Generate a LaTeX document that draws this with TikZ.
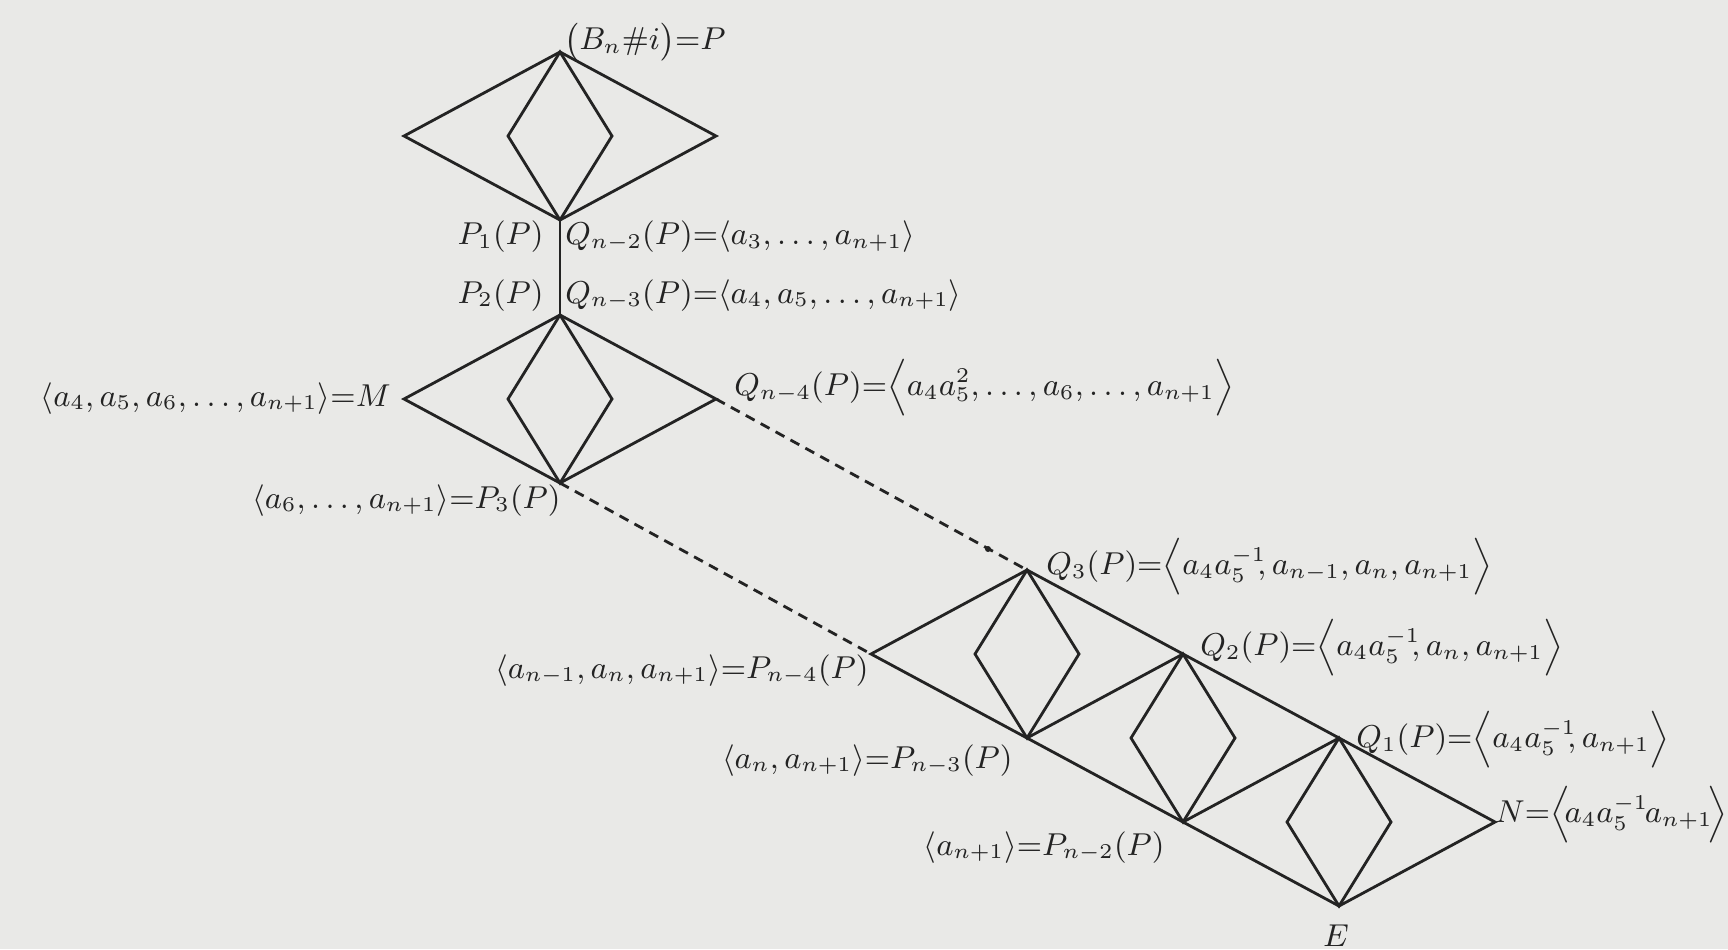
\documentclass[tikz,border=0pt]{standalone}
\usepackage{amsmath}
\definecolor{papel}{RGB}{233,233,231}
\definecolor{tinta}{RGB}{35,35,35}
\begin{document}
\begin{tikzpicture}[x=0.1mm,y=-0.1mm,line width=0.8pt,draw=tinta,text=tinta,
  font=\fontsize{9}{11}\selectfont,
  lbl/.style={inner sep=0pt},
  discont/.style={dash pattern=on 1mm off 0.7mm}]

% Fondo
\fill[papel] (0,0) rectangle (1728,949);
\useasboundingbox (0,0) rectangle (1728,949);

% Vertices de arriba
\coordinate (T1) at (560,52);
\coordinate (L1) at (404,136);
\coordinate (R1) at (716,136);
\coordinate (B1) at (560,220);
\coordinate (IL1) at (508,136);
\coordinate (IR1) at (612,136);
\coordinate (T2) at (560,315);
\coordinate (M) at (404,399);
\coordinate (R2) at (716,399);
\coordinate (B2) at (560,483);
\coordinate (IL2) at (508,399);
\coordinate (IR2) at (612,399);

% Vertices de abajo
\coordinate (A) at (871,654);
\coordinate (Q3) at (1027,570);
\coordinate (B3) at (1027,738);
\coordinate (Q2) at (1183,654);
\coordinate (B4) at (1183,822);
\coordinate (Q1) at (1339,738);
\coordinate (E) at (1339,906);
\coordinate (N) at (1495,822);
\coordinate (IL3) at (975,654);
\coordinate (IR3) at (1079,654);
\coordinate (IL4) at (1131,738);
\coordinate (IR4) at (1235,738);
\coordinate (IL5) at (1287,822);
\coordinate (IR5) at (1391,822);

% Rombos de arriba
\draw (T1) -- (L1) -- (B1) -- (R1) -- cycle;
\draw (T1) -- (IL1) -- (B1) -- (IR1) -- cycle;
\draw (B1) -- (T2);
\draw (T2) -- (M) -- (B2) -- (R2) -- cycle;
\draw (T2) -- (IL2) -- (B2) -- (IR2) -- cycle;

% Tramos a trazos
\draw[discont] (R2) -- (Q3);
\draw[discont] (B2) -- (A);
\fill[tinta] (988,549) circle[radius=0.3mm];

% Cadena de abajo
\draw (A) -- (Q3) -- (Q2) -- (Q1) -- (N) -- (E) -- (B4) -- (B3) -- cycle;
\draw (B3) -- (Q2);
\draw (B4) -- (Q1);
\draw (Q3) -- (IL3) -- (B3) -- (IR3) -- cycle;
\draw (Q2) -- (IL4) -- (B4) -- (IR4) -- cycle;
\draw (Q1) -- (IL5) -- (E) -- (IR5) -- cycle;

% Etiquetas
\node[lbl, anchor=base west] (etqP) at (563,50) {$\bigl(B_n\#i\bigr){=}P$};
\node[lbl, anchor=base east] (etqPa) at (545,245) {$P_1(P)$};
\node[lbl, anchor=base west] (etqQa) at (564,245) {$Q_{n-2}(P){=}\langle a_3,\dots,a_{n+1}\rangle$};
\node[lbl, anchor=base east] (etqPb) at (545,303) {$P_2(P)$};
\node[lbl, anchor=base west] (etqQb) at (564,303) {$Q_{n-3}(P){=}\langle a_4,a_5,\dots,a_{n+1}\rangle$};
\node[lbl, anchor=base east] (etqM) at (392,406) {$\langle a_4,a_5,a_6,\dots,a_{n+1}\rangle{=}M$};
\node[lbl, anchor=west] (etqQc) at (733,388) {$Q_{n-4}(P){=}\Big\langle a_4a_5^2,\dots,a_6,\dots,a_{n+1}\Big\rangle$};
\node[lbl, anchor=base east] (etqPc) at (562,508) {$\langle a_6,\dots,a_{n+1}\rangle{=}P_3(P)$};
\node[lbl, anchor=west] (etqQd) at (1045,567) {$Q_3(P){=}\Big\langle a_4a_5^{-1}\mkern-5mu,a_{n-1},a_n,a_{n+1}\Big\rangle$};
\node[lbl, anchor=base east] (etqPd) at (870,678) {$\langle a_{n-1},a_n,a_{n+1}\rangle{=}P_{n-4}(P)$};
\node[lbl, anchor=west] (etqQe) at (1199,648) {$Q_2(P){=}\Big\langle a_4a_5^{-1}\mkern-5mu,a_n,a_{n+1}\Big\rangle$};
\node[lbl, anchor=base east] (etqPe) at (1014,768) {$\langle a_n,a_{n+1}\rangle{=}P_{n-3}(P)$};
\node[lbl, anchor=west] (etqQf) at (1355,740) {$Q_1(P){=}\Big\langle a_4a_5^{-1}\mkern-5mu,a_{n+1}\Big\rangle$};
\node[lbl, anchor=base east] (etqPf) at (1166,855) {$\langle a_{n+1}\rangle{=}P_{n-2}(P)$};
\node[lbl, anchor=west] (etqN) at (1494,815) {$N{=}\Big\langle\mkern-3mu a_4a_5^{-1}\mkern-2mu a_{n+1}\mkern-3mu\Big\rangle$};
\node[lbl, anchor=base] (etqE) at (1336,946) {$E$};

\end{tikzpicture}
\end{document}
